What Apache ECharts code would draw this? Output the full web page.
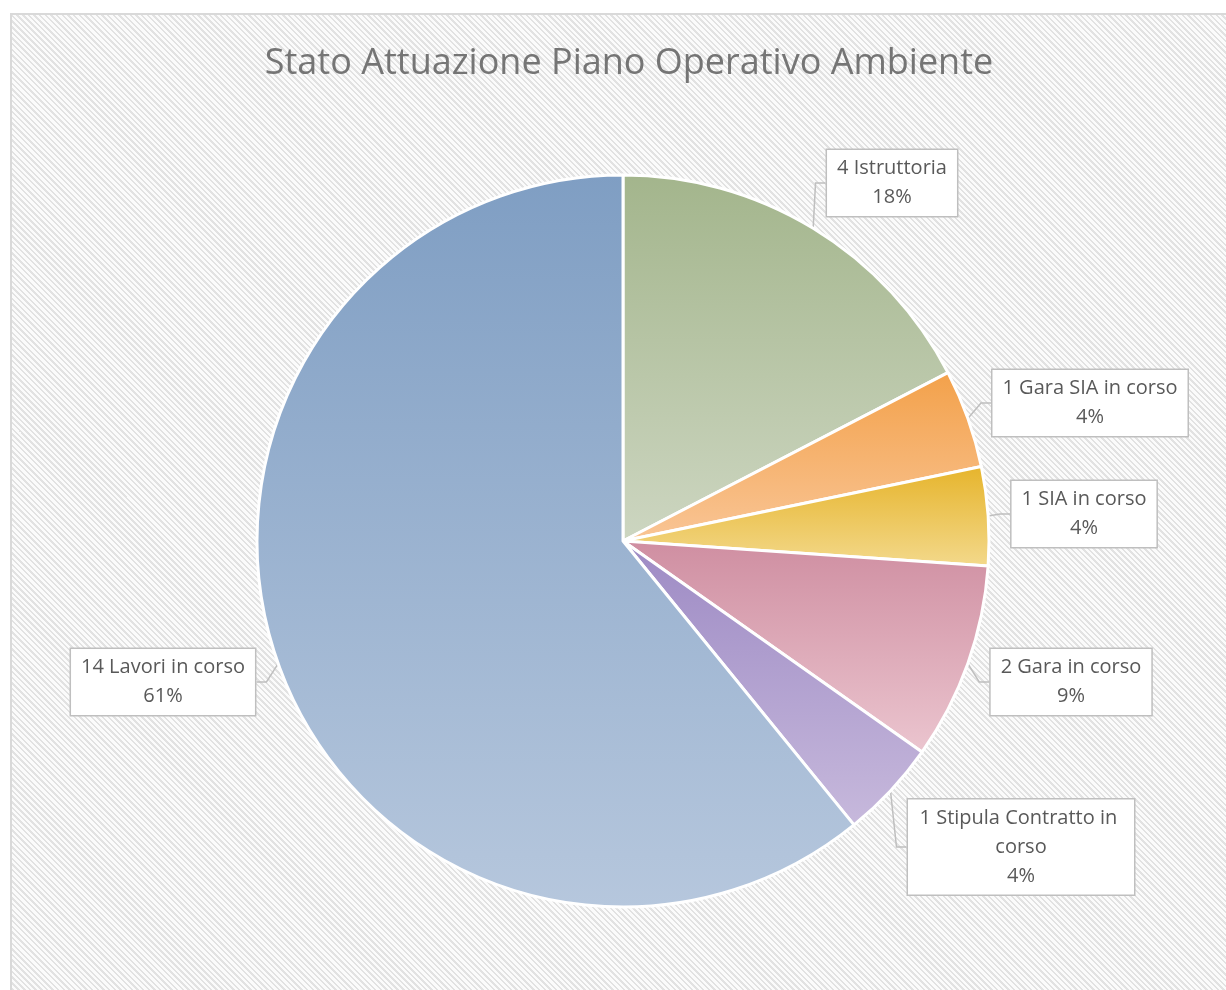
<!DOCTYPE html>
<html>
<head>
<meta charset="utf-8">
<script src="https://cdn.jsdelivr.net/npm/echarts@6/dist/echarts.min.js"></script>
<style>
  html, body { margin: 0; padding: 0; background: #ffffff; }
  #frame {
    position: absolute; left: 10px; top: 13px; width: 1230px; height: 990px;
    border: 2px solid #d9d9d9; box-sizing: border-box;
    background: repeating-linear-gradient(45deg, #e2e2e2 0px, #e2e2e2 1.7px, #fbfbfb 1.7px, #fbfbfb 4px);
  }
  #chart { position: absolute; left: 0; top: 0; width: 1226px; height: 990px; }
</style>
</head>
<body>
<div id="frame"></div>
<div id="chart"></div>
<script>
const titleText = 'Stato Attuazione Piano Operativo Ambiente';
const categories = ['Istruttoria', 'Gara SIA in corso', 'SIA in corso', 'Gara in corso', 'Stipula Contratto in corso', 'Lavori in corso'];
const values = [4, 1, 1, 2, 1, 14];
const percentLabels = ['18%', '4%', '4%', '9%', '4%', '61%'];
const topColors = ['#a3b58c', '#f3a14a', '#e6b42b', '#cf8ea1', '#9d8ac4', '#7f9ec3'];
const bottomColors = ['#cdd6c1', '#f9c596', '#f3d98c', '#ebc5cf', '#c7b9dc', '#b6c7dd'];
// label box centres (page pixels)
const labelCenters = [[892, 183], [1090, 403], [1084, 514], [1071, 682], [1021, 847], [163, 682]];
const labelWidths = [null, null, null, null, 206, null];

const chart = echarts.init(document.getElementById('chart'));

const data = categories.map((name, i) => {
  const item = {
    name: name,
    value: values[i],
    itemStyle: {
      color: new echarts.graphic.LinearGradient(0, 0, 0, 1, [
        { offset: 0, color: topColors[i] },
        { offset: 1, color: bottomColors[i] }
      ])
    }
  };
  if (labelWidths[i]) {
    item.label = { width: labelWidths[i], overflow: 'break' };
  }
  return item;
});

chart.setOption({
  backgroundColor: 'transparent',
  animation: false,
  title: {
    text: titleText,
    left: 624,
    textAlign: 'center',
    top: 41,
    textStyle: {
      fontFamily: 'Open Sans',
      fontSize: 36,
      fontWeight: 'normal',
      color: '#757575'
    }
  },
  series: [{
    type: 'pie',
    center: [623, 541],
    radius: 366,
    startAngle: 90,
    clockwise: true,
    data: data,
    itemStyle: { borderColor: '#ffffff', borderWidth: 3 },
    label: {
      show: true,
      position: 'outside',
      formatter: p => p.value + ' ' + p.name + '\n' + percentLabels[p.dataIndex],
      fontFamily: 'Open Sans',
      fontSize: 20,
      lineHeight: 29,
      color: '#595959',
      align: 'center',
      backgroundColor: '#ffffff',
      borderColor: '#bfbfbf',
      borderWidth: 1.5,
      padding: [4, 10, 4, 10]
    },
    labelLine: {
      show: true,
      length: 10,
      length2: 10,
      lineStyle: { color: '#bfbfbf', width: 1.5 }
    },
    labelLayout: function (params) {
      const c = labelCenters[params.dataIndex];
      return {
        x: c[0],
        y: c[1],
        align: 'center',
        verticalAlign: 'middle'
      };
    }
  }]
});
</script>
</body>
</html>
